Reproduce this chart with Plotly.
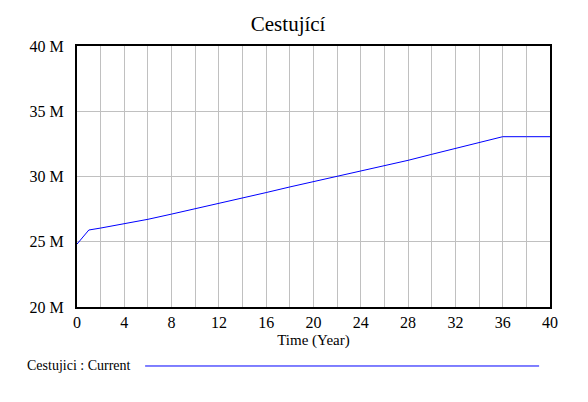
import plotly.graph_objects as go

# time (years) and passengers (millions)
years = [0, 1, 2, 4, 6, 8, 10, 12, 14, 16, 18, 20, 22, 24, 26, 28, 30, 32, 34, 36, 38, 40]
cestujici = [24.82, 25.9, 26.05, 26.38, 26.72, 27.12, 27.52, 27.93, 28.33, 28.77, 29.2,
             29.6, 30.0, 30.42, 30.84, 31.24, 31.7, 32.15, 32.6, 33.05, 33.05, 33.05]

x_ticks = [0, 4, 8, 12, 16, 20, 24, 28, 32, 36, 40]
y_ticks = [20, 25, 30, 35, 40]
y_labels = ["20 M", "25 M", "30 M", "35 M", "40 M"]

serif = "Liberation Serif"

fig = go.Figure()
fig.add_trace(go.Scatter(x=years, y=cestujici, mode="lines",
                         line=dict(color="#0000ff", width=1),
                         showlegend=False, hoverinfo="skip"))

# page body has an 8px margin, so the figure is a bit smaller than the window
fig.update_layout(
    width=580, height=394,
    margin=dict(l=69, r=38, t=38, b=95),
    paper_bgcolor="white", plot_bgcolor="white",
    font=dict(family=serif, size=16, color="black"),
    title=dict(text="Cestující", x=0.483, xanchor="center", y=0.961, yanchor="middle",
               font=dict(family=serif, size=21, color="black")),
)

fig.update_xaxes(
    range=[0, 40], tickvals=x_ticks, ticks="",
    tickfont=dict(family=serif, size=16),
    showgrid=True, gridcolor="#c0c0c0", gridwidth=1,
    minor=dict(dtick=2, showgrid=True, gridcolor="#c0c0c0", gridwidth=1),
    showline=True, linecolor="black", linewidth=2, mirror=True,
    zeroline=False,
    title=dict(text="Time (Year)", standoff=4, font=dict(family=serif, size=15)),
)
fig.update_yaxes(
    range=[20, 40], tickvals=y_ticks, ticktext=y_labels, ticks="",
    tickfont=dict(family=serif, size=16),
    showgrid=True, gridcolor="#c0c0c0", gridwidth=1,
    showline=True, linecolor="black", linewidth=2, mirror=True,
    zeroline=False, ticklabelstandoff=8,
)

# legend row under the chart
fig.add_annotation(text="Cestujici : Current", xref="paper", yref="paper",
                   x=-0.110, y=-0.226, xanchor="left", yanchor="middle",
                   showarrow=False, font=dict(family=serif, size=14))
fig.add_shape(type="line", xref="paper", yref="paper",
              x0=0.144, x1=0.977, y0=-0.226, y1=-0.226,
              line=dict(color="#0000ff", width=1))

fig.write_html("out.html")
